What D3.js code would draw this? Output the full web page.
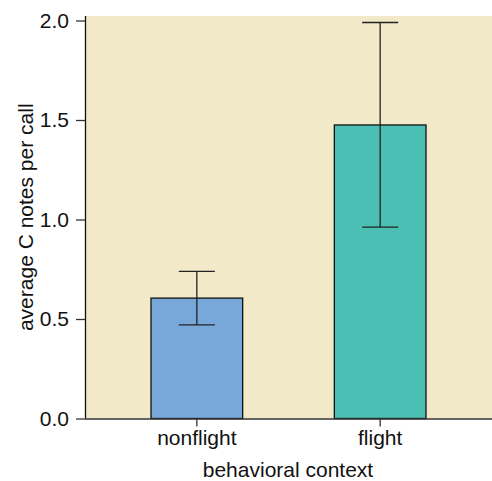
<!DOCTYPE html>
<html>
<head>
<meta charset="utf-8">
<script src="https://cdn.jsdelivr.net/npm/d3@7"></script>
<style>
  body { margin: 0; background: #fff; }
  svg text { font-family: "Liberation Sans", Arial, sans-serif; fill: #111; }
</style>
</head>
<body>
<div id="chart"></div>
<script>
const categories = ["nonflight", "flight"];
const means = [0.605, 1.475];
const errLow = [0.47, 0.962];
const errHigh = [0.739, 1.99];
const yTicks = [0, 0.5, 1.0, 1.5, 2.0];
const barColors = ["#78a8da", "#4bbfb4"];

const width = 492, height = 481;
const margin = {top: 16, right: 0, bottom: 63, left: 85};
const fontSize = 21;

let svg = d3.select("#chart").append("svg")
    .attr("width", width)
    .attr("height", height);

let x = d3.scaleBand()
    .domain(categories)
    .range([margin.left, width - margin.right])
    .paddingInner(0.5)
    .paddingOuter(0.36);

let y = d3.scaleLinear()
    .domain([0, 2.0])
    .range([418.5, 20.5]);

// panel background
svg.append("rect")
    .attr("x", margin.left)
    .attr("y", margin.top)
    .attr("width", width - margin.left - margin.right)
    .attr("height", y(0) - margin.top)
    .attr("fill", "#f1e9c8");

// bars
svg.selectAll(".bar")
    .data(categories)
  .enter().append("rect")
    .attr("class", "bar")
    .attr("x", d => x(d))
    .attr("y", (d, i) => y(means[i]))
    .attr("width", x.bandwidth())
    .attr("height", (d, i) => y(0) - y(means[i]))
    .attr("fill", (d, i) => barColors[i])
    .attr("stroke", "#111")
    .attr("stroke-width", 1.3);

// error bars
let cap = 18;
let eb = svg.selectAll(".err")
    .data(categories)
  .enter().append("g")
    .attr("class", "err")
    .attr("stroke", "#222")
    .attr("stroke-width", 1.3);

eb.append("line")
    .attr("x1", d => x(d) + x.bandwidth() / 2)
    .attr("x2", d => x(d) + x.bandwidth() / 2)
    .attr("y1", (d, i) => y(errLow[i]))
    .attr("y2", (d, i) => y(errHigh[i]));
eb.append("line")
    .attr("x1", d => x(d) + x.bandwidth() / 2 - cap)
    .attr("x2", d => x(d) + x.bandwidth() / 2 + cap)
    .attr("y1", (d, i) => y(errHigh[i]))
    .attr("y2", (d, i) => y(errHigh[i]));
eb.append("line")
    .attr("x1", d => x(d) + x.bandwidth() / 2 - cap)
    .attr("x2", d => x(d) + x.bandwidth() / 2 + cap)
    .attr("y1", (d, i) => y(errLow[i]))
    .attr("y2", (d, i) => y(errLow[i]));

// y axis
let yAxis = svg.append("g")
    .attr("transform", `translate(${margin.left},0)`)
    .call(d3.axisLeft(y).tickValues(yTicks).tickFormat(d3.format(".1f")).tickSize(9).tickSizeOuter(0).tickPadding(7));
yAxis.select(".domain").attr("stroke", "#111").attr("stroke-width", 1.3)
    .attr("d", `M0.5,${margin.top}V${y(0)}`);
yAxis.selectAll(".tick line").attr("stroke", "#333").attr("stroke-width", 1.3);
yAxis.selectAll("text").attr("font-size", fontSize).attr("fill", "#111");

// x axis
let xAxis = svg.append("g")
    .attr("transform", `translate(0,${y(0)})`)
    .call(d3.axisBottom(x).tickSize(8).tickSizeOuter(0).tickPadding(4));
xAxis.select(".domain").attr("stroke", "#333").attr("stroke-width", 1.3)
    .attr("d", `M${margin.left},0.5H${width}`);
xAxis.selectAll(".tick line").attr("stroke", "#333").attr("stroke-width", 1.3);
xAxis.selectAll("text").attr("font-size", fontSize).attr("fill", "#111");

// axis titles
svg.append("text")
    .attr("x", 288)
    .attr("y", 477)
    .attr("text-anchor", "middle")
    .attr("font-size", fontSize)
    .text("behavioral context");

svg.append("text")
    .attr("transform", `translate(33,${(margin.top + y(0)) / 2}) rotate(-90)`)
    .attr("text-anchor", "middle")
    .attr("font-size", fontSize)
    .text("average C notes per call");
</script>
</body>
</html>
